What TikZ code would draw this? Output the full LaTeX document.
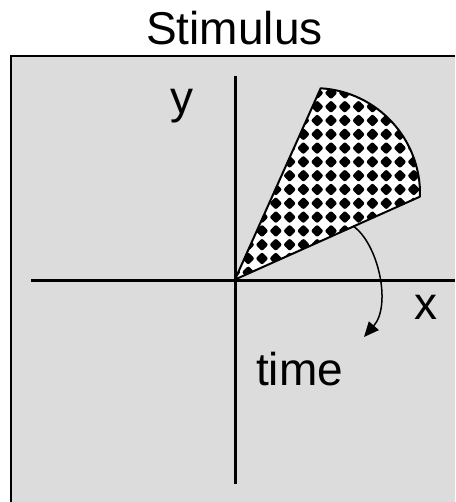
\documentclass[tikz,border=0pt]{standalone}
\usepackage{fontspec}
\setmainfont{Liberation Sans}
\usetikzlibrary{arrows.meta}
\definecolor{stimgray}{HTML}{DCDCDC}
\tikzset{
  lbl/.style={font=\fontsize{23}{27}\selectfont,inner sep=0pt,anchor=base},
  axis/.style={line width=1.5pt,black},
  rim/.style={line width=1pt,black},
  dot/.style={fill=black,rounded corners=1pt},
  turn/.style={-{Triangle[length=7.5pt,width=6.5pt]},line width=0.75pt,black},
}
\begin{document}
\begin{tikzpicture}[x=0.5pt,y=-0.5pt]
  \useasboundingbox (0,0) rectangle (455,502);
  % panel
  \fill[stimgray] (11,56) rectangle (455,502);
  \draw[rim] (11,502) -- (11,56) -- (455,56);
  \node[lbl] (title) at (234.5,45) {Stimulus};
  % axes
  \coordinate (xl) at (31,280);
  \coordinate (xr) at (455,280);
  \coordinate (yt) at (235,76);
  \coordinate (yb) at (235,484);
  \draw[axis] (xl) -- (xr);
  \draw[axis] (yt) -- (yb);
  \node[lbl] (ylab) at (182,114) {y};
  \node[lbl] (xlab) at (426,319.5) {x};
  % checkered sector
  \coordinate (o) at (235,279.5);
  \coordinate (c) at (419.96,196.65);
  \begin{scope}
    \clip (o) -- (c) arc[start angle=1.6,end angle=-86.6,radius=105.6] -- cycle;
    \fill[white] (o) -- (c) arc[start angle=1.6,end angle=-86.6,radius=105.6] -- cycle;
    \foreach \i in {0,...,14}
      \foreach \j in {0,...,14}
        \fill[dot] ({234.4+13.8*\i},{92.9+13.8*\j}) +(-6.4,0) -- +(0,-6.4) -- +(6.4,0) -- +(0,6.4) -- cycle;
  \end{scope}
  \draw[rim,line join=round] (o) -- (c) arc[start angle=1.6,end angle=-86.6,radius=105.6] -- cycle;
  % rotation
  \coordinate (rs) at (353,226);
  \coordinate (re) at (364,337);
  \draw[turn] (rs) .. controls (378,243) and (392,305) .. (re);
  \node[lbl] (tlab) at (299.5,385) {time};
\end{tikzpicture}
\end{document}
